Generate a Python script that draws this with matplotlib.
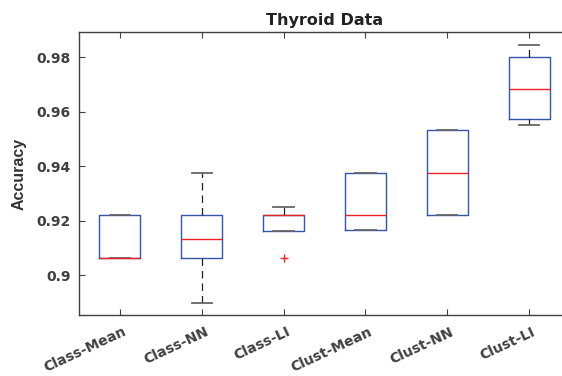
import matplotlib
matplotlib.use("Agg")
from matplotlib import pyplot as plt
from matplotlib import transforms

plt.rcParams['font.family'] = ['DejaVu Sans']
plt.rcParams['font.weight'] = 'bold'

# summary stats per method
methods = ['Class-Mean', 'Class-NN', 'Class-LI', 'Clust-Mean', 'Clust-NN', 'Clust-LI']
medians = [0.9063, 0.9132, 0.9220, 0.9220, 0.9376, 0.9684]
q1s = [0.9063, 0.9063, 0.9164, 0.9167, 0.9220, 0.9572]
q3s = [0.9220, 0.9220, 0.9220, 0.9375, 0.9532, 0.9800]
lows = [0.9063, 0.8900, 0.9164, 0.9167, 0.9220, 0.9550]
highs = [0.9220, 0.9375, 0.9250, 0.9375, 0.9532, 0.9844]
outliers = [[], [], [0.9063], [], [], []]

stats = []
for name, med, a, b, lo, hi, fl in zip(methods, medians, q1s, q3s, lows, highs, outliers):
    stats.append(dict(label=name, med=med, q1=a, q3=b, whislo=lo, whishi=hi, fliers=fl))

fig = plt.figure(figsize=(5.62, 3.76), dpi=100)
ax = fig.add_axes([79 / 562, 1 - 315 / 376, 491 / 562, 283 / 376])

edge = '#404040'
ax.bxp(stats, widths=0.5, showfliers=True,
       boxprops=dict(color='#3355aa', linewidth=1.0),
       medianprops=dict(color='#ee2222', linewidth=1.0),
       whiskerprops=dict(color='#222222', linewidth=0.9, linestyle=(0, (6, 4))),
       capprops=dict(color='#666666', linewidth=1.3),
       capwidths=0.25,
       flierprops=dict(marker='+', markeredgecolor='#ff2222', markersize=6, linestyle='none'))

ax.set_xlim(0.5, 6.5)
ax.set_ylim(0.8855, 0.9892)
ax.set_yticks([0.9, 0.92, 0.94, 0.96, 0.98])
ax.set_yticklabels(['0.9', '0.92', '0.94', '0.96', '0.98'])
ax.set_xticklabels(methods, rotation=25, ha='right', va='top', rotation_mode='anchor')

ax.spines['right'].set_visible(False)
for s in ax.spines.values():
    s.set_color(edge)
    s.set_linewidth(1.0)
ax.tick_params(direction='in', top=True, right=False, colors=edge, labelsize=10, length=4)
ax.tick_params(axis='x', pad=7)
ax.tick_params(axis='y', pad=6)

# nudge the slanted labels so their ends sit just past the ticks
shift = transforms.ScaledTranslation(2 / 72, 0, fig.dpi_scale_trans)
for t in ax.get_xticklabels():
    t.set_transform(t.get_transform() + shift)
for t in ax.get_xticklabels() + ax.get_yticklabels():
    t.set_fontweight('bold')
    t.set_color(edge)

ax.set_title('Thyroid Data', fontsize=11.5, fontweight='bold', color='#222222', pad=5)
ax.set_ylabel('Accuracy', fontsize=11.5, fontweight='bold', color='#333333', labelpad=7,
              family='Liberation Sans')

fig.savefig('out.png', dpi=100)
